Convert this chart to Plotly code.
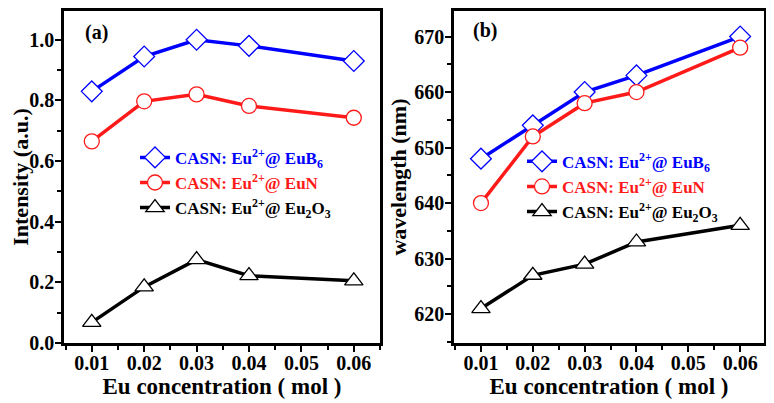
import plotly.graph_objects as go

conc = [0.01, 0.02, 0.03, 0.04, 0.06]
int_eub6 = [0.83, 0.945, 1.0, 0.98, 0.93]
int_eun = [0.665, 0.797, 0.82, 0.782, 0.743]
int_eu2o3 = [0.068, 0.185, 0.275, 0.222, 0.205]
wl_eub6 = [648, 654, 660, 663, 670]
wl_eun = [640, 652, 658, 660, 668]
wl_eu2o3 = [621, 627, 629, 633, 636]

x_ticks = [0.01, 0.02, 0.03, 0.04, 0.05, 0.06]
x_ticklabels = ["0.01", "0.02", "0.03", "0.04", "0.05", "0.06"]
y1_ticks = [0.0, 0.2, 0.4, 0.6, 0.8, 1.0]
y1_ticklabels = ["0.0", "0.2", "0.4", "0.6", "0.8", "1.0"]
y2_ticks = [620, 630, 640, 650, 660, 670]

BLUE = "#0000ff"
RED = "#ff1a1a"
BLACK = "#000000"
FONT = "Liberation Serif"

# page body has an 8px margin; figure laid out in (reference - 8) px
W, H = 766, 395
PB = 335  # plot area bottom in figure px

names = [
    ("CASN: Eu<sup>2+</sup>@ EuB<sub>6</sub>", BLUE, "diamond", 16),
    ("CASN: Eu<sup>2+</sup>@ EuN", RED, "circle", 15),
    ("CASN: Eu<sup>2+</sup>@ Eu<sub>2</sub>O<sub>3</sub>", BLACK, "triangle-up", 16),
]

fig = go.Figure()
for (nm, col, sym, sz), ys in zip(names, [int_eub6, int_eun, int_eu2o3]):
    fig.add_trace(go.Scatter(
        x=conc, y=ys, mode="lines+markers",
        name=f'<span style="color:{col}">{nm}</span>',
        line=dict(color=col, width=3.5),
        marker=dict(symbol=sym, size=sz, color="white", line=dict(color=col, width=1.3)),
        xaxis="x", yaxis="y", legend="legend",
    ))
for (nm, col, sym, sz), ys in zip(names, [wl_eub6, wl_eun, wl_eu2o3]):
    fig.add_trace(go.Scatter(
        x=conc, y=ys, mode="lines+markers",
        name=f'<span style="color:{col}">{nm}</span>',
        line=dict(color=col, width=3.5),
        marker=dict(symbol=sym, size=sz, color="white", line=dict(color=col, width=1.3)),
        xaxis="x2", yaxis="y2", legend="legend2",
    ))

def ax(**kw):
    d = dict(
        showline=True, linecolor="black", linewidth=2.5, mirror=True,
        ticks="outside", ticklen=6, tickwidth=2, tickcolor="black",
        showgrid=False, zeroline=False,
        tickfont=dict(family=FONT, size=20, color="black", weight="bold"),
        title_font=dict(family=FONT, size=22, color="black", weight="bold"),
    )
    d.update(kw)
    return d

minor = lambda dt: dict(ticks="outside", ticklen=4, tickwidth=1.5, tickcolor="black", dtick=dt)
xtitle_font = dict(family=FONT, size=23, color="black", weight="bold")

fig.update_layout(
    width=W, height=H,
    margin=dict(l=0, r=0, t=0, b=H - PB),
    plot_bgcolor="white", paper_bgcolor="white",
    xaxis=ax(domain=[56/W, 372/W], range=[0.0047, 0.065], tickvals=x_ticks,
             ticktext=x_ticklabels, anchor="y", minor=minor(0.005), ticklabelstandoff=-6,
             title=dict(text="Eu concentration ( mol )", standoff=0, font=xtitle_font)),
    yaxis=ax(range=[0, 1.095], tickvals=y1_ticks, ticktext=y1_ticklabels, anchor="x",
             minor=minor(0.1), ticklabelstandoff=-3,
             title=dict(text="Intensity (a.u.)", standoff=2)),
    xaxis2=ax(domain=[446/W, 756/W], range=[0.0048, 0.0646], tickvals=x_ticks,
              ticktext=x_ticklabels, anchor="y2", minor=minor(0.005), ticklabelstandoff=-6,
              title=dict(text="Eu concentration ( mol )", standoff=0, font=xtitle_font)),
    yaxis2=ax(range=[614.8, 674.6], tickvals=y2_ticks, anchor="x2",
              minor=minor(5), ticklabelstandoff=-3,
              title=dict(text="wavelength (nm)", standoff=2)),
    legend=dict(x=127/W, y=(PB - 130)/PB, xanchor="left", yanchor="top", bgcolor="rgba(0,0,0,0)",
                font=dict(family=FONT, size=17, weight="bold"), tracegroupgap=0),
    legend2=dict(x=514/W, y=(PB - 134)/PB, xanchor="left", yanchor="top", bgcolor="rgba(0,0,0,0)",
                 font=dict(family=FONT, size=17, weight="bold"), tracegroupgap=0),
    annotations=[
        dict(text="(a)", xref="paper", yref="paper", x=75/W, y=(PB - 22)/PB, showarrow=False,
             xanchor="left", yanchor="middle",
             font=dict(family=FONT, size=20, color="black", weight="bold")),
        dict(text="(b)", xref="paper", yref="paper", x=463/W, y=(PB - 20)/PB, showarrow=False,
             xanchor="left", yanchor="middle",
             font=dict(family=FONT, size=20, color="black", weight="bold")),
    ],
)

fig.write_html("out.html")
